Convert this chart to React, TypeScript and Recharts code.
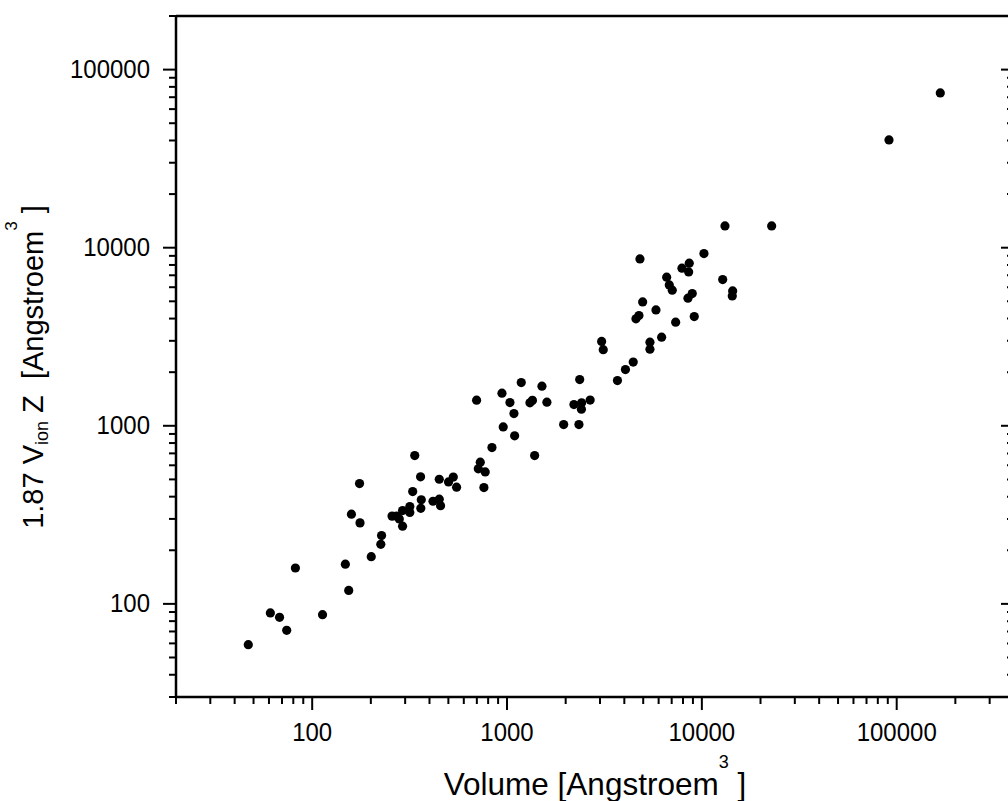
import React from 'react';
import { ScatterChart, Scatter, XAxis, YAxis } from 'recharts';

// Volume [Angstroem^3]
const volume = [
  47, 61, 68, 74, 82, 113, 148, 154, 159, 176,
  175, 201, 225, 227, 257, 271, 280, 291, 291, 317,
  317, 328, 336, 361, 363, 360, 417, 449, 456, 449,
  501, 530, 551, 712, 729, 698, 773, 761, 837, 956,
  942, 1035, 1085, 1094, 1183, 1311, 1350, 1511, 1602, 1386,
  1953, 2339, 2205, 2415, 2409, 2671, 2361, 3059, 3118, 3687,
  4053, 4444, 4811, 4589, 4755, 4967, 5414, 5414, 5813, 6216,
  6598, 6803, 7047, 7337, 7902, 8616, 8555, 8484, 8928, 9141,
  10252, 12791, 14390, 14323, 13143, 22816, 91306, 167400,
];

// 1.87 V_ion Z [Angstroem^3]
const vionZ = [
  59, 89, 84, 71, 159, 87, 167, 119, 319, 285,
  474, 184, 216, 242, 311, 311, 300, 334, 273, 352,
  326, 427, 680, 344, 384, 517, 377, 387, 356, 501,
  484, 515, 452, 573, 625, 1392, 551, 450, 755, 986,
  1524, 1350, 1171, 878, 1748, 1345, 1389, 1668, 1357, 680,
  1016, 1016, 1315, 1345, 1240, 1394, 1817, 2978, 2675, 1794,
  2068, 2279, 8653, 3986, 4157, 4962, 2947, 2692, 4475, 3144,
  6830, 6181, 5772, 3817, 7670, 8185, 7313, 5205, 5524, 4104,
  9266, 6622, 5719, 5363, 13258, 13258, 40309, 73990,
];

const xDomain: [number, number] = [20, 400000];
const yDomain: [number, number] = [30, 200000];

const logTicks = (lo: number, hi: number) => {
  const out: number[] = [];
  for (let d = 1; d <= 1e6; d *= 10) {
    for (let m = 1; m < 10; m++) {
      const v = m * d;
      if (v >= lo && v <= hi) out.push(v);
    }
  }
  return out;
};
const xTicks = logTicks(xDomain[0], xDomain[1]);
const yTicks = logTicks(yDomain[0], yDomain[1]);

const data = volume.map((v, i) => ({ volume: v, vion: vionZ[i] }));

const FONT = '"Liberation Sans", Arial, sans-serif';
const MAJOR = 13;
const MINOR = 7;
const TICK_FS = 24;

const isMajor = (v: number) => {
  const l = Math.log10(v);
  return Math.abs(l - Math.round(l)) < 1e-9;
};

const BottomTick = (props: any) => {
  const { x, y, payload } = props;
  const major = isMajor(payload.value);
  return (
    <g>
      <line x1={x} x2={x} y1={y} y2={y + (major ? MAJOR : MINOR)} stroke="#000" strokeWidth={2} />
      {major && (
        <text
          transform={`translate(${x},${y + 44}) scale(1,1.1)`}
          textAnchor="middle"
          fontSize={TICK_FS}
          fontFamily={FONT}
          fill="#000"
        >
          {payload.value}
        </text>
      )}
    </g>
  );
};

const TopTick = (props: any) => {
  const { x, y, payload } = props;
  const major = isMajor(payload.value);
  return <line x1={x} x2={x} y1={y} y2={y + (major ? MAJOR : MINOR)} stroke="#000" strokeWidth={2} />;
};

const LeftTick = (props: any) => {
  const { x, y, payload } = props;
  const major = isMajor(payload.value);
  return (
    <g>
      <line x1={x} x2={x - (major ? MAJOR : MINOR)} y1={y} y2={y} stroke="#000" strokeWidth={2} />
      {major && (
        <text
          transform={`translate(${x - 26},${y + 8}) scale(1,1.1)`}
          textAnchor="end"
          fontSize={TICK_FS}
          fontFamily={FONT}
          fill="#000"
        >
          {payload.value}
        </text>
      )}
    </g>
  );
};

const RightTick = (props: any) => {
  const { x, y, payload } = props;
  const major = isMajor(payload.value);
  return <line x1={x} x2={x - (major ? MAJOR : MINOR)} y1={y} y2={y} stroke="#000" strokeWidth={2} />;
};

const Dot = (props: any) => <circle cx={props.cx} cy={props.cy} r={4.6} fill="#000" />;

const axisLine = { stroke: '#000', strokeWidth: 2.5 };

export default function App() {
  return (
    <div style={{ position: 'absolute', left: 0, top: 0, width: 1008, height: 801, overflow: 'hidden', background: '#fff' }}>
      <ScatterChart width={1030} height={801} margin={{ top: 6, right: 6, bottom: 44, left: 76 }}>
        <XAxis
          xAxisId="b"
          dataKey="volume"
          type="number"
          scale="log"
          domain={xDomain}
          allowDataOverflow
          ticks={xTicks}
          interval={0}
          tickSize={0}
          tickMargin={0}
          tickLine={false}
          axisLine={axisLine}
          tick={<BottomTick />}
          height={60}
          orientation="bottom"
        />
        <XAxis
          xAxisId="t"
          type="number"
          scale="log"
          domain={xDomain}
          allowDataOverflow
          ticks={xTicks}
          interval={0}
          tickSize={0}
          tickMargin={0}
          tickLine={false}
          axisLine={axisLine}
          tick={<TopTick />}
          height={10}
          orientation="top"
        />
        <YAxis
          yAxisId="l"
          dataKey="vion"
          type="number"
          scale="log"
          domain={yDomain}
          allowDataOverflow
          ticks={yTicks}
          interval={0}
          tickSize={0}
          tickMargin={0}
          tickLine={false}
          axisLine={axisLine}
          tick={<LeftTick />}
          width={100}
          orientation="left"
        />
        <YAxis
          yAxisId="r"
          type="number"
          scale="log"
          domain={yDomain}
          allowDataOverflow
          ticks={yTicks}
          interval={0}
          tickSize={0}
          tickMargin={0}
          tickLine={false}
          axisLine={axisLine}
          tick={<RightTick />}
          width={10}
          orientation="right"
        />
        <Scatter data={data} xAxisId="b" yAxisId="l" isAnimationActive={false} shape={Dot} />
        <text x={595} y={795} textAnchor="middle" fontSize={31.5} fontFamily={FONT} fill="#000" style={{ whiteSpace: 'pre' }}>
          <tspan>Volume [Angstroem</tspan>
          <tspan fontSize={18} dy={-27}>3</tspan>
          <tspan dy={27}> ]</tspan>
        </text>
        <text
          transform="translate(43,367) rotate(-90)"
          textAnchor="middle"
          fontSize={29}
          fontFamily={FONT}
          fill="#000"
          style={{ whiteSpace: 'pre' }}
        >
          <tspan>1.87 V</tspan>
          <tspan fontSize={18} dy={5}>ion</tspan>
          <tspan dy={-5}> Z  [Angstroem</tspan>
          <tspan fontSize={17} dy={-26}>3</tspan>
          <tspan dy={26}> ]</tspan>
        </text>
      </ScatterChart>
    </div>
  );
}
